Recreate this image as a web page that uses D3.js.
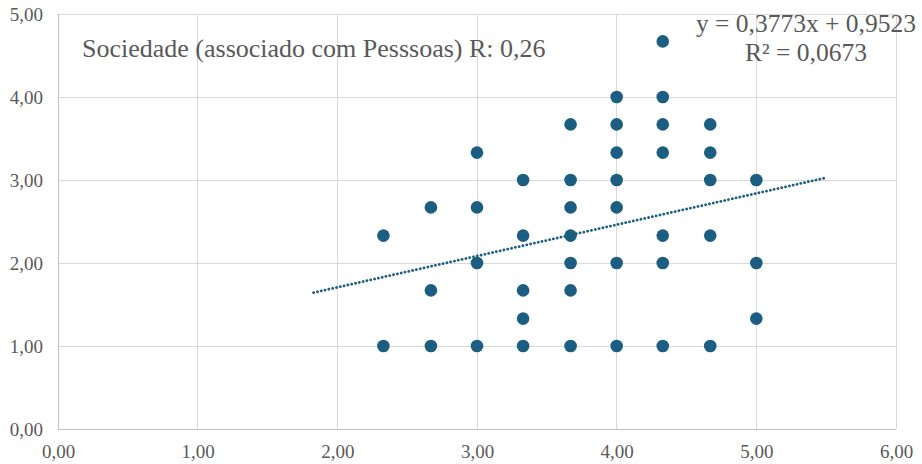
<!DOCTYPE html>
<html><head><meta charset="utf-8">
<script src="https://cdn.jsdelivr.net/npm/d3@7"></script>
<style>html,body{margin:0;padding:0;background:#fff}svg{display:block}</style>
</head><body>
<script>
const xValues = [2.33,2.33, 2.67,2.67,2.67, 3,3,3,3, 3.33,3.33,3.33,3.33,3.33,
  3.67,3.67,3.67,3.67,3.67,3.67,3.67, 4,4,4,4,4,4,4, 4.33,4.33,4.33,4.33,4.33,4.33,4.33,
  4.67,4.67,4.67,4.67,4.67, 5,5,5];
const yValues = [2.33,1, 2.67,1.67,1, 3.33,2.67,2,1, 3,2.33,1.67,1.33,1,
  3.67,3,2.67,2.33,2,1.67,1, 4,3.67,3.33,3,2.67,2,1, 4.67,4,3.67,3.33,2.33,2,1,
  3.67,3.33,3,2.33,1, 3,2,1.33];
const xTicks = [0,1,2,3,4,5,6];
const yTicks = [0,1,2,3,4,5];
const trendSlope = 0.3773, trendIntercept = 0.9523;
const trendRange = [1.83, 5.5];
const title = "Sociedade (associado com Pesssoas) R: 0,26";
const eqLines = ["y = 0,3773x + 0,9523", "R² = 0,0673"];

const W = 922, H = 464;
const svg = d3.select("body").append("svg").attr("width", W).attr("height", H);
const x = d3.scaleLinear().domain([0,6]).range([58,896]);
const y = d3.scaleLinear().domain([0,5]).range([429,14]);
const fmt = d => d3.format(".2f")(d).replace(".", ",");
const font = "'Liberation Serif','Times New Roman',serif";
const txt = "#595959";

// gridlines
svg.append("g").selectAll("line").data(xTicks).join("line")
  .attr("x1", d => x(d)).attr("x2", d => x(d)).attr("y1", y(0)).attr("y2", y(5))
  .attr("stroke", "#d9d9d9").attr("stroke-width", 1).attr("shape-rendering","crispEdges");
svg.append("g").selectAll("line").data(yTicks).join("line")
  .attr("x1", x(0)).attr("x2", x(6)).attr("y1", d => y(d)).attr("y2", d => y(d))
  .attr("stroke", "#d9d9d9").attr("stroke-width", 1).attr("shape-rendering","crispEdges");
// axis lines
svg.append("line").attr("x1", x(0)).attr("x2", x(6)).attr("y1", y(0)).attr("y2", y(0))
  .attr("stroke", "#bfbfbf").attr("shape-rendering","crispEdges");
svg.append("line").attr("x1", x(0)).attr("x2", x(0)).attr("y1", y(0)).attr("y2", y(5))
  .attr("stroke", "#bfbfbf").attr("shape-rendering","crispEdges");

// axes labels using d3 axes
const xAxis = svg.append("g").attr("transform", `translate(0,${y(0)})`)
  .call(d3.axisBottom(x).tickValues(xTicks).tickFormat(fmt).tickSize(0).tickPadding(15.5));
const yAxis = svg.append("g").attr("transform", `translate(${x(0)},0)`)
  .call(d3.axisLeft(y).tickValues(yTicks).tickFormat(fmt).tickSize(0).tickPadding(15));
[xAxis, yAxis].forEach(a => {
  a.attr("font-family", font).attr("font-size", 19);
  a.select(".domain").remove();
  a.selectAll("text").attr("fill", txt).style("font-family", font).style("font-size", "19px");
});

// trendline
const tl = trendRange.map(v => [v, trendSlope * v + trendIntercept]);
svg.append("path").attr("d", d3.line().x(d => x(d[0])).y(d => y(d[1]))(tl))
  .attr("fill", "none").attr("stroke", "#1b5e82").attr("stroke-width", 2.8)
  .attr("stroke-dasharray", "0.1,3.8").attr("stroke-linecap", "round");

// points
svg.append("g").selectAll("circle").data(xValues.map((v,i) => [v, yValues[i]])).join("circle")
  .attr("cx", d => x(d[0])).attr("cy", d => y(d[1])).attr("r", 6.3)
  .attr("fill", "#1b5e82");

// title
svg.append("text").attr("x", 82).attr("y", 57).text(title)
  .attr("fill", txt).style("font-family", font).style("font-size", "26px");
// equation
svg.append("g").selectAll("text").data(eqLines).join("text")
  .attr("x", 806).attr("y", (d,i) => 32 + i*29).attr("text-anchor", "middle")
  .text(d => d).attr("fill", txt).style("font-family", font).style("font-size", "25.5px");
</script>
</body></html>
